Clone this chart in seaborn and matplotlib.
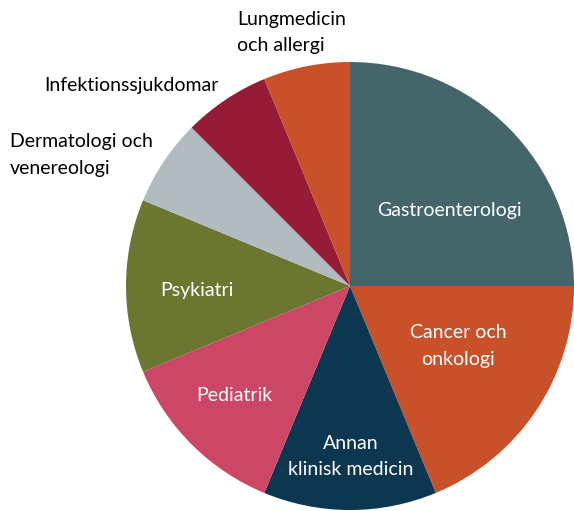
import matplotlib
matplotlib.use("Agg")
import matplotlib.pyplot as plt
import seaborn as sns

# counts per specialty, clockwise from 12 o'clock
labels = ["Gastroenterologi", "Cancer och\nonkologi", "Annan\nklinisk medicin",
          "Pediatrik", "Psykiatri", "Dermatologi och\nvenereologi",
          "Infektionssjukdomar", "Lungmedicin\noch allergi"]
counts = [8, 6, 4, 4, 4, 2, 2, 2]
colors = ["#44666b", "#c8512a", "#0d3650", "#cc4765", "#6b7630",
          "#b1bbc0", "#961b36", "#c8512a"]

sns.set_style("white")
plt.rcParams["font.family"] = ["Lato", "DejaVu Sans"]

fig = plt.figure(figsize=(5.74, 5.11), dpi=100)
ax = fig.add_axes([126 / 574, 1 / 511, 448 / 574, 448 / 511])
wedges, _ = ax.pie(counts, colors=colors, startangle=90, counterclock=False,
                   radius=1.0, wedgeprops=dict(linewidth=0))
ax.set_xlim(-1, 1)
ax.set_ylim(-1, 1)
ax.set_aspect("equal")
ax.axis("off")

# label placement (inside = white, outside = black left aligned)
pos = [(0.446, 0.335, "center", "white"),
       (0.482, -0.268, "center", "white"),
       (0.004, -0.76, "center", "white"),
       (-0.518, -0.487, "center", "white"),
       (-0.683, -0.018, "center", "white"),
       (-1.518, 0.585, "left", "black"),
       (-1.366, 0.897, "left", "black"),
       (-0.504, 1.13, "left", "black")]
for lab, (x, y, ha, c) in zip(labels, pos):
    ax.text(x, y, lab, ha=ha, va="center", color=c, fontsize=14,
            linespacing=1.65, clip_on=False)

fig.savefig("out.png", dpi=100)
